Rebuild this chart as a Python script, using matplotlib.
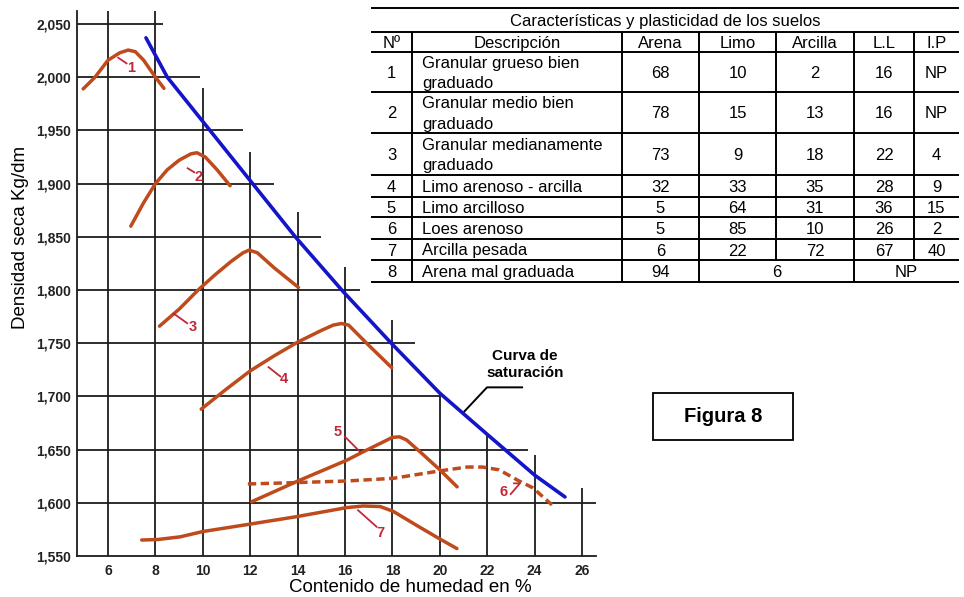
import matplotlib
matplotlib.use('Agg')
import matplotlib.pyplot as plt
from matplotlib.ticker import FuncFormatter

plt.rcParams['font.family'] = ['Liberation Sans', 'DejaVu Sans']

# ==================== DATA ====================
humedad_ticks = [6, 8, 10, 12, 14, 16, 18, 20, 22, 24, 26]
densidad_ticks = [1550, 1600, 1650, 1700, 1750, 1800, 1850, 1900, 1950, 2000, 2050]

# staircase grid: top of every vertical line, right end of every horizontal line
vline_top = [2062, 2062, 1990, 1930, 1873, 1822, 1772, 1703, 1664, 1645, 1614]
hline_y = [1600, 1650, 1700, 1750, 1800, 1850, 1900, 1950, 2000, 2050]
hline_end = [26.6, 23.7, 20.0, 18.95, 16.65, 15.0, 13.0, 11.7, 9.9, 8.32]

# compaction curves (humedad %, densidad seca)
c1_x = [4.95, 5.45, 6.0, 6.5, 6.85, 7.15, 7.5, 8.0, 8.36]
c1_y = [1989, 2000, 2016, 2023, 2025.5, 2024, 2016, 2000, 1989.5]
c2_x = [6.96, 7.5, 8.0, 8.5, 9.0, 9.5, 9.75, 10.1, 10.6, 11.15]
c2_y = [1860, 1882, 1900, 1913, 1922, 1928, 1929, 1925, 1913, 1898]
c3_x = [8.17, 9.0, 9.8, 10.5, 11.2, 11.7, 11.95, 12.3, 13.0, 14.03]
c3_y = [1766, 1782, 1800, 1814, 1827, 1835, 1837.5, 1835, 1821, 1802.5]
c4_x = [9.93, 11.0, 12.0, 13.0, 14.0, 15.0, 15.5, 15.85, 16.15, 17.0, 17.97]
c4_y = [1688, 1707, 1724, 1738, 1751, 1762, 1767, 1768.5, 1767, 1748, 1727]
c5_x = [12.06, 13.96, 16.07, 16.77, 17.5, 18.0, 18.3, 18.6, 19.16, 20.0, 20.73]
c5_y = [1601, 1620, 1640, 1648, 1656, 1661.5, 1662, 1659, 1648, 1631, 1615]
c6_x = [11.9, 13.96, 16.07, 18.03, 19.16, 20.0, 21.15, 21.8, 22.5, 23.26, 23.93, 24.73]
c6_y = [1617.7, 1619, 1620.5, 1623, 1627, 1630, 1633.6, 1633.6, 1631, 1621.5, 1614, 1598]
c7_x = [7.42, 8.1, 9.04, 10.0, 12.0, 13.96, 16.07, 16.77, 17.48, 18.03, 19.08, 20.0, 20.72]
c7_y = [1565, 1565.5, 1568, 1573, 1580, 1587, 1595.5, 1597, 1596.5, 1592, 1578, 1566, 1557]

# saturation curve
sat_x = [7.6, 8.5, 10.3, 12.1, 13.9, 15.92, 17.95, 20.0, 22.03, 24.0, 25.28]
sat_y = [2037, 2000, 1950, 1900, 1850, 1798.5, 1750, 1703, 1663.7, 1626, 1605.5]

# curve number labels: text, label position, leader polyline
curve_names = ['1', '2', '3', '4', '5', '6', '7']
curve_label_xy = [(6.97, 2008.4), (9.84, 1906.5), (9.59, 1765.6), (13.43, 1716.6),
                  (15.7, 1667), (22.7, 1610), (17.48, 1571.6)]
curve_ticks = [
    [(6.43, 2018.3), (6.78, 2013)],
    [(9.36, 1914.4), (9.64, 1910.6)],
    [(8.76, 1778), (9.34, 1768.75)],
    [(12.77, 1727.5), (13.27, 1718.75)],
    [(16.0, 1662), (16.63, 1648)],
    [(23.13, 1618.3), (23.38, 1618.3), (22.99, 1608.2)],
    [(16.55, 1593), (17.33, 1577.5)],
]

sat_label = 'Curva de\nsaturación'
sat_leader = [(21.04, 1686), (21.99, 1708.5), (23.47, 1708.5)]

# table
table_title = 'Características y plasticidad de los suelos'
table_cols = ['Nº', 'Descripción', 'Arena', 'Limo', 'Arcilla', 'L.L', 'I.P']
suelo_n = ['1', '2', '3', '4', '5', '6', '7', '8']
suelo_desc = ['Granular grueso bien\ngraduado', 'Granular medio bien\ngraduado',
              'Granular medianamente\ngraduado', 'Limo arenoso - arcilla',
              'Limo arcilloso', 'Loes arenoso', 'Arcilla pesada', 'Arena mal graduada']
arena = ['68', '78', '73', '32', '5', '5', '6', '94']
limo = ['10', '15', '9', '33', '64', '85', '22']
arcilla = ['2', '13', '18', '35', '31', '10', '72']
ll = ['16', '16', '22', '28', '36', '26', '67']
ip = ['NP', 'NP', '4', '9', '15', '2', '40']
fila8_limo_arcilla = '6'
fila8_ll_ip = 'NP'

# ==================== STYLE ====================
CURVE = '#bf4a1c'
LABEL = '#c0283a'
BLUE = '#1414c8'
GRID = '#1c1c1c'
W, H = 964, 597

fig = plt.figure(figsize=(W / 100, H / 100), dpi=100)

# main axes placed so that x=4.69 sits at px 77 and y=1550 at px 556
x0, x1, y0, y1 = 4.69, 26.7, 1550, 2062
px_x, px_y = 23.7, 1.064
ax = fig.add_axes([77 / W, (H - 556) / H, (x1 - x0) * px_x / W, (y1 - y0) * px_y / H])
ax.set_xlim(x0, x1)
ax.set_ylim(y0, y1)
ax.patch.set_alpha(0)

for s in ['top', 'right']:
    ax.spines[s].set_visible(False)
for s in ['left', 'bottom']:
    ax.spines[s].set_color(GRID)
    ax.spines[s].set_linewidth(1.3)
ax.spines['bottom'].set_bounds(x0, 26.6)

ax.vlines(humedad_ticks, y0, vline_top, color=GRID, lw=1.3, zorder=1)
ax.hlines(hline_y, x0, hline_end, color=GRID, lw=1.3, zorder=1)

ax.set_xticks(humedad_ticks)
ax.set_yticks(densidad_ticks)
ax.yaxis.set_major_formatter(FuncFormatter(lambda v, p: f'{int(v):,}'))
ax.tick_params(length=0, labelsize=10, labelcolor='#222222')
ax.tick_params(axis='x', pad=6)
ax.tick_params(axis='y', pad=4)
for t in ax.get_xticklabels() + ax.get_yticklabels():
    t.set_fontweight('bold')

# curves
for cx, cy in [(c1_x, c1_y), (c2_x, c2_y), (c3_x, c3_y), (c4_x, c4_y), (c5_x, c5_y), (c7_x, c7_y)]:
    ax.plot(cx, cy, color=CURVE, lw=2.5, solid_capstyle='round', solid_joinstyle='round', zorder=3)
ax.plot(c6_x, c6_y, color=CURVE, lw=2.5, dashes=(2.4, 1.3), zorder=3)
ax.plot(sat_x, sat_y, color=BLUE, lw=2.6, solid_capstyle='round', zorder=4)

for name, (lx, ly), tk in zip(curve_names, curve_label_xy, curve_ticks):
    ax.plot([p[0] for p in tk], [p[1] for p in tk], color=LABEL, lw=1.3, zorder=5)
    ax.text(lx, ly, name, color=LABEL, fontsize=10.5, fontweight='bold',
            ha='center', va='center', zorder=5)

ax.plot([p[0] for p in sat_leader], [p[1] for p in sat_leader], color='black', lw=1.4, zorder=5)
ax.text(23.6, 1730, sat_label, ha='center', va='center', fontsize=11, fontweight='bold',
        linespacing=1.25, zorder=5)

ax.set_xlabel('Contenido de humedad en %', fontsize=13.5, va='center')
ax.xaxis.set_label_coords((410 - 77) / ((x1 - x0) * px_x), -(587 - 556) / ((y1 - y0) * px_y))
ax.set_ylabel('Densidad seca Kg/dm', fontsize=13.5, va='center')
ax.yaxis.set_label_coords((21 - 77) / ((x1 - x0) * px_x), (556 - 237) / ((y1 - y0) * px_y))

# ==================== TABLE + FIGURA BOX (pixel overlay) ====================
ov = fig.add_axes([0, 0, 1, 1])
ov.set_xlim(0, W)
ov.set_ylim(H, 0)
ov.axis('off')

col_x = [371, 412, 622, 699, 776, 854, 914, 959]
row_y = [8, 32, 52, 92, 133, 175, 197, 217, 239, 260, 282]
FS = 12

ov.hlines(row_y, col_x[0], col_x[-1], color='black', lw=1.4)
for cx in col_x[1:-1]:
    # the last row merges Limo+Arcilla and L.L+I.P
    bottom = row_y[-2] if cx in (776, 914) else row_y[-1]
    ov.vlines(cx, row_y[1], bottom, color='black', lw=1.4)


def mid(a, b):
    return (a + b) / 2


def cell(txt, xa, xb, ya, yb, ha='center'):
    lines = txt.split('\n')
    base = mid(ya, yb) + 6 - 10 * (len(lines) - 1)
    xt = mid(xa, xb) if ha == 'center' else xa + 10
    for k, ln in enumerate(lines):
        ov.text(xt, base + 20 * k, ln, ha=ha, va='baseline', fontsize=FS)


cell(table_title, col_x[0], col_x[-1], row_y[0], row_y[1])
for j, name in enumerate(table_cols):
    cell(name, col_x[j], col_x[j + 1], row_y[1], row_y[2])

for i in range(8):
    ya, yb = row_y[i + 2], row_y[i + 3]
    cell(suelo_n[i], col_x[0], col_x[1], ya, yb)
    cell(suelo_desc[i], col_x[1], col_x[2], ya, yb, ha='left')
    cell(arena[i], col_x[2], col_x[3], ya, yb)
    if i < 7:
        cell(limo[i], col_x[3], col_x[4], ya, yb)
        cell(arcilla[i], col_x[4], col_x[5], ya, yb)
        cell(ll[i], col_x[5], col_x[6], ya, yb)
        cell(ip[i], col_x[6], col_x[7], ya, yb)
    else:
        cell(fila8_limo_arcilla, col_x[3], col_x[5], ya, yb)
        cell(fila8_ll_ip, col_x[5], col_x[7], ya, yb)

ov.add_patch(plt.Rectangle((653, 393), 140, 47, fill=False, ec='black', lw=1.3))
ov.text(723, 416.5, 'Figura 8', ha='center', va='center', fontsize=14.5, fontweight='bold')

fig.savefig('out.png', dpi=100)
